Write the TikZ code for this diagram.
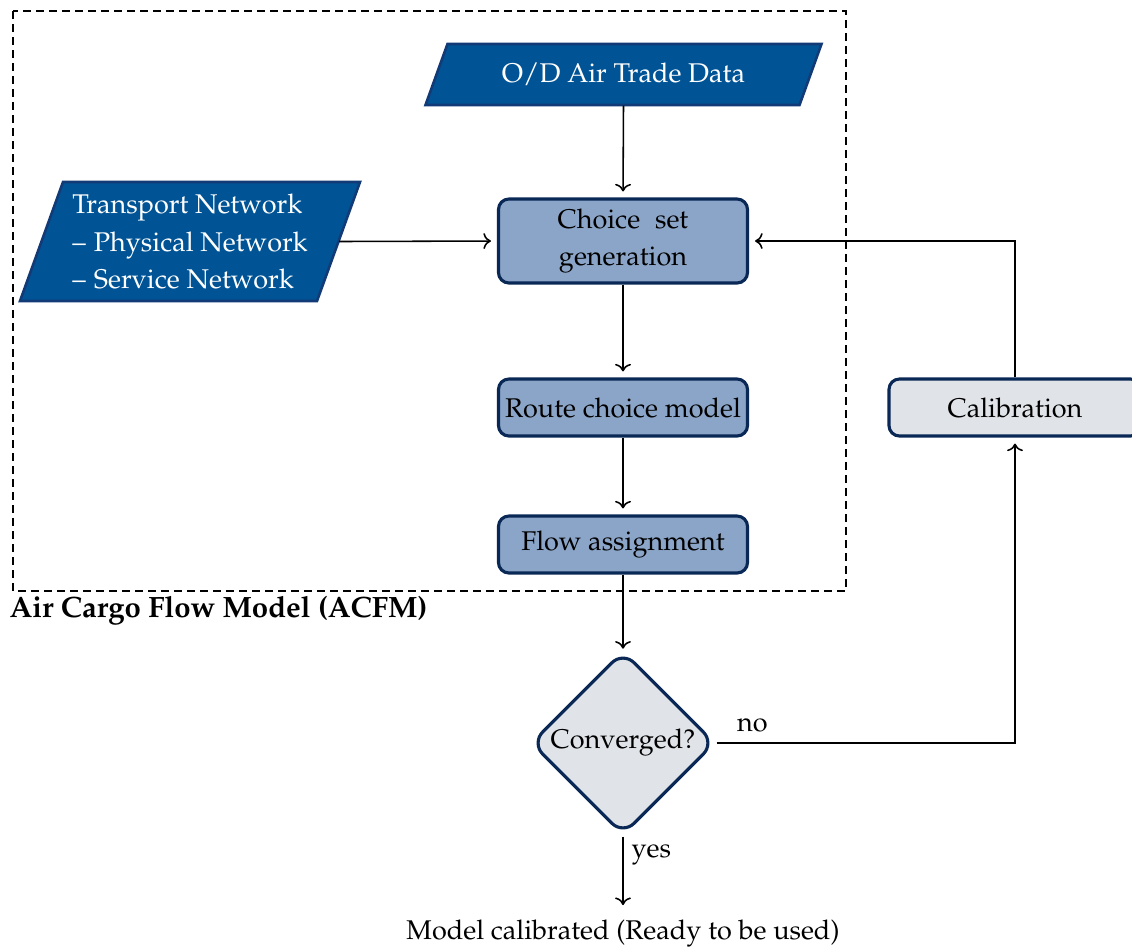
\documentclass[tikz,border=0pt]{standalone}
\usepackage[T1]{fontenc}
\usepackage{mathpazo}
\usetikzlibrary{shapes.geometric,arrows.meta,calc}
\definecolor{shapeblue}{RGB}{0,84,150}
\definecolor{shapeborder}{RGB}{18,58,118}
\definecolor{boxblue}{RGB}{139,165,200}
\definecolor{navyb}{RGB}{10,40,85}
\definecolor{lightgr}{RGB}{224,227,232}
\def\pxu{0.3846pt}
\tikzset{
  body/.style={font=\fontsize{10.4}{14.6}\selectfont},
  procbox/.style={body, draw=navyb, fill=boxblue, line width=1.2pt, rounded corners=4pt,
    minimum width=249*\pxu, minimum height=57*\pxu, inner sep=0pt, align=center},
  calbox/.style={procbox, fill=lightgr},
  decision/.style={body, diamond, draw=navyb, fill=lightgr, line width=1.2pt, rounded corners=6pt,
    minimum width=184*\pxu, minimum height=184*\pxu, inner sep=0pt},
  datashape/.style={body, text=white, inner sep=0pt},
  para/.style={fill=shapeblue, draw=shapeborder, line width=1pt},
  arr/.style={->, line width=0.6pt, shorten >=2.3pt},
  group/.style={dashed, dash pattern=on 3pt off 2pt, line width=0.4pt},
}
\begin{document}
\begin{tikzpicture}[x=\pxu, y=-\pxu]
\useasboundingbox (0,0) rectangle (1132,951);
% group box
\draw[group] (13,11) rectangle (846,591);
\node[anchor=west, font=\fontsize{11.3}{13}\selectfont\bfseries, inner sep=0pt] (title) at (9,611) {Air Cargo Flow Model (ACFM)};
% data shapes (parallelograms drawn behind the text nodes)
\coordinate (odc) at (623.5,74.5);
\coordinate (tnc) at (190,241.5);
\path[para] ($(odc)+(-198,30.5)$) -- ($(odc)+(-176,-30.5)$) -- ($(odc)+(198,-30.5)$) -- ($(odc)+(176,30.5)$) -- cycle;
\path[para] ($(tnc)+(-170,59.5)$) -- ($(tnc)+(-127,-59.5)$) -- ($(tnc)+(170,-59.5)$) -- ($(tnc)+(127,59.5)$) -- cycle;
\node[datashape, minimum width=374*\pxu, minimum height=61*\pxu] (od) at (odc) {O/D Air Trade Data};
\node[datashape, minimum width=297*\pxu, minimum height=119*\pxu, align=left] (tn) at (tnc)
  {Transport Network\\--\hspace{0.3em}Physical Network\\--\hspace{0.3em}Service Network};
% process boxes
\node[procbox, minimum height=84*\pxu] (csg) at (623,241) {Choice\hspace{0.55em}set\\generation};
\node[procbox] (rcm) at (623,407.5) {Route choice model};
\node[procbox] (fa) at (623,544.5) {Flow assignment};
\node[calbox, minimum width=252*\pxu] (cal) at (1015,407.5) {Calibration};
\node[decision] (conv) at (623,743) {Converged?};
\node[body, anchor=north] (done) at (623,911) {Model calibrated (Ready to be used)};
% connectors
\draw[arr] (od.south) -- (csg.north);
\draw[arr] (tn.east) -- (csg.west);
\draw[arr] (csg) -- (rcm);
\draw[arr] (rcm) -- (fa);
\draw[arr, shorten >=0.3pt] (fa) -- (conv);
\draw[arr] (conv.east) -| node[body, pos=0.06, above, inner sep=4pt] {no} (cal.south);
\draw[arr] (cal.north) |- (csg.east);
\draw[arr] (conv.south) -- node[body, pos=0.24, right, inner sep=3pt] {yes} (done.north);
\end{tikzpicture}
\end{document}
